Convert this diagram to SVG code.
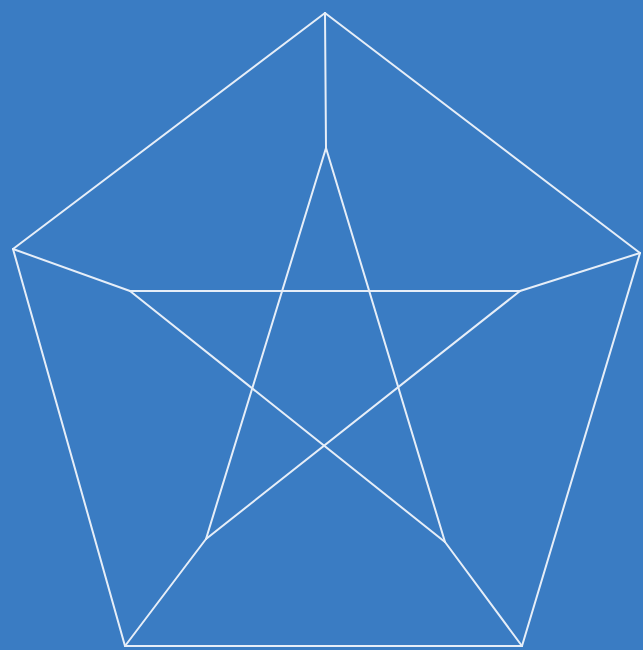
<svg xmlns="http://www.w3.org/2000/svg" width="643" height="650" viewBox="0 0 643 650">
<style>
.e{stroke:#e6eef8;stroke-width:2;fill:none;stroke-linecap:round}
</style>
<rect width="643" height="650" fill="#3a7cc3"/>
<g id="connectors">
<line class="e" x1="325" y1="13" x2="640" y2="253"/>
<line class="e" x1="640" y1="253" x2="522" y2="646"/>
<line class="e" x1="522" y1="646" x2="125" y2="646"/>
<line class="e" x1="125" y1="646" x2="13" y2="249"/>
<line class="e" x1="13" y1="249" x2="325" y2="13"/>
<line class="e" x1="325" y1="13" x2="326" y2="148"/>
<line class="e" x1="13" y1="249" x2="130" y2="291"/>
<line class="e" x1="640" y1="253" x2="520" y2="291"/>
<line class="e" x1="125" y1="646" x2="206" y2="539"/>
<line class="e" x1="522" y1="646" x2="445" y2="542"/>
<line class="e" x1="326" y1="148" x2="206" y2="539"/>
<line class="e" x1="326" y1="148" x2="445" y2="542"/>
<line class="e" x1="130" y1="291" x2="520" y2="291"/>
<line class="e" x1="130" y1="291" x2="445" y2="542"/>
<line class="e" x1="520" y1="291" x2="206" y2="539"/>
</g>
<g id="o1"/><g id="o2"/><g id="o3"/><g id="o4"/><g id="o5"/>
<g id="i1"/><g id="i2"/><g id="i3"/><g id="i4"/><g id="i5"/>
</svg>
